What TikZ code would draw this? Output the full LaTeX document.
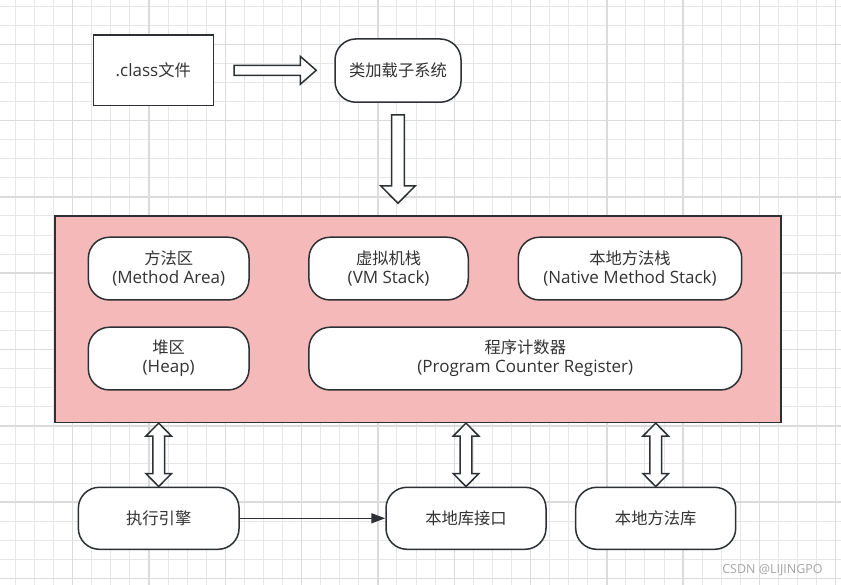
\documentclass[tikz,border=0pt]{standalone}
\usepackage{fontspec}
\newfontfamily\cjk{Noto Sans CJK SC}
\newfontfamily\lat{Open Sans}
\usetikzlibrary{calc,arrows.meta}
\definecolor{strokec}{RGB}{45,48,52}
\definecolor{textc}{RGB}{51,51,51}
\definecolor{pinkc}{RGB}{244,185,184}
\definecolor{gminor}{RGB}{231,231,231}
\definecolor{gmajor}{RGB}{219,219,219}
\newcommand\harrow[2]{%
  \draw[blk] let \p1=(#1), \p2=(#2) in
   (\x1,\y1+5pt) -- (\x2-16pt,\y1+5pt) -- (\x2-16pt,\y1+14pt) -- (\x2,\y1)
   -- (\x2-16pt,\y1-14pt) -- (\x2-16pt,\y1-5pt) -- (\x1,\y1-5pt) -- cycle;}
\newcommand\varrowdown[2]{%
  \draw[blk] let \p1=(#1), \p2=(#2) in
   (\x1-6.3pt,\y1) -- (\x1-6.3pt,\y2+17.5pt) -- (\x1-17.3pt,\y2+17.5pt) -- (\x1,\y2)
   -- (\x1+17.3pt,\y2+17.5pt) -- (\x1+6.3pt,\y2+17.5pt) -- (\x1+6.3pt,\y1) -- cycle;}
\newcommand\vdarrow[2]{%
  \draw[blk] let \p1=(#1), \p2=(#2) in
   (\x1,\y1) -- (\x1+12.8pt,\y1-13pt) -- (\x1+5.8pt,\y1-13pt) -- (\x1+5.8pt,\y2+13pt)
   -- (\x1+12.8pt,\y2+13pt) -- (\x1,\y2) -- (\x1-12.8pt,\y2+13pt) -- (\x1-5.8pt,\y2+13pt)
   -- (\x1-5.8pt,\y1-13pt) -- (\x1-12.8pt,\y1-13pt) -- cycle;}
\tikzset{
  blk/.style={draw=strokec, fill=white, line width=1.5pt, line join=miter},
  sq/.style={draw=strokec, fill=white, line width=1.5pt, font=\cjk\fontsize{16.3}{19}\selectfont,
     text=textc, align=center, inner sep=0pt},
  rbox/.style={sq, rounded corners=21pt},
  gmin/.style={gminor, line width=1pt},
  gmaj/.style={gmajor, line width=1.4pt},
}
\newcommand\la[1]{{\lat\fontsize{17}{19}\selectfont #1}}
\begin{document}
\begin{tikzpicture}[x=1pt,y=-1pt]
\useasboundingbox (0,0) rectangle (841,585);
\fill[white] (0,0) rectangle (841,585);
% grid
\foreach \i in {-3,...,40} {\draw[gmin] ({72.7+19.075*\i},0) -- ({72.7+19.075*\i},585);}
\foreach \j in {-2,...,28} {\draw[gmin] (0,{44.3+19.075*\j}) -- (841,{44.3+19.075*\j});}
\foreach \i in {-1,...,10} {\draw[gmaj] ({72.7+76.3*\i},0) -- ({72.7+76.3*\i},585);}
\foreach \j in {0,...,7} {\draw[gmaj] (0,{44.3+76.3*\j}) -- (841,{44.3+76.3*\j});}
% nodes
\node[sq, minimum width=120pt, minimum height=70.7pt] (cls) at (153.3,70.3) {\la{.class}文件};
\node[rbox, minimum width=126pt, minimum height=63.3pt] (loader) at (398,70.6) {类加载子系统};
\node[draw=strokec, fill=pinkc, line width=1.5pt, minimum width=726pt, minimum height=206.3pt, inner sep=0pt] (jvm) at (418,319.2) {};
\node[rbox, minimum width=160.7pt, minimum height=62.7pt] (ma) at (168.7,268.6) {方法区\\\la{(Method Area)}};
\node[rbox, minimum width=159.3pt, minimum height=62.7pt] (vms) at (388.6,268.6) {虚拟机栈\\\la{(VM Stack)}};
\node[rbox, minimum width=223.4pt, minimum height=62.7pt] (nms) at (630,268.6) {本地方法栈\\\la{(Native Method Stack)}};
\node[rbox, minimum width=160.7pt, minimum height=62.7pt] (heap) at (168.7,358.6) {堆区\\\la{(Heap)}};
\node[rbox, minimum width=432.7pt, minimum height=62.7pt] (pc) at (525.3,358.6) {程序计数器\\\la{(Program Counter Register)}};
\node[rbox, minimum width=160.7pt, minimum height=62pt] (exec) at (158.7,518.3) {执行引擎};
\node[rbox, minimum width=160pt, minimum height=62pt] (nif) at (466,518.3) {本地库接口};
\node[rbox, minimum width=160pt, minimum height=62pt] (nlib) at (655.7,518.3) {本地方法库};
% block arrows
\coordinate (a1s) at ($(cls.east)+(20,0)$);
\coordinate (a1e) at ($(loader.west)+(-18,0)$);
\harrow{a1s}{a1e}
\coordinate (a2s) at ($(loader.south)+(0,12)$);
\coordinate (a2e) at ($(jvm.north -| loader.south)+(0,-12)$);
\varrowdown{a2s}{a2e}
\vdarrow{jvm.south -| exec.north}{exec.north}
\vdarrow{jvm.south -| nif.north}{nif.north}
\vdarrow{jvm.south -| nlib.north}{nlib.north}
% thin arrow
\draw[strokec, line width=1.5pt, -{Triangle[length=14pt,width=10pt]}] (exec.east) -- (nif.west);
% watermark
\node[font=\lat\fontsize{12.5}{13}\selectfont, text={rgb,255:red,165;green,165;blue,165}, inner sep=0pt] (wm) at (772.5,570) {CSDN @LIJINGPO};
\end{tikzpicture}
\end{document}
